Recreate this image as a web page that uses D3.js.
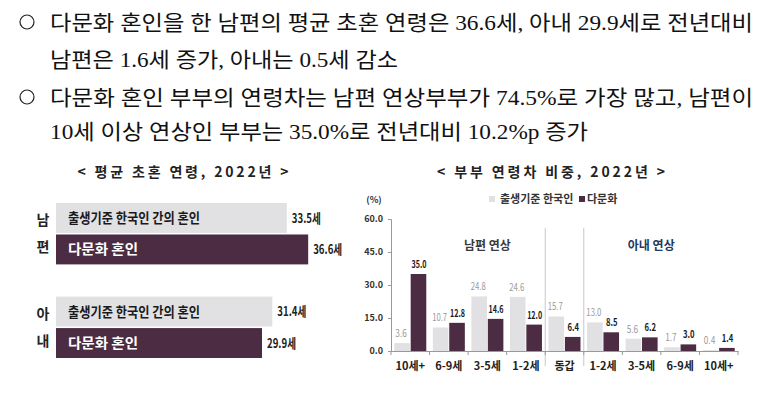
<!DOCTYPE html>
<html>
<head>
<meta charset="utf-8">
<script src="https://cdn.jsdelivr.net/npm/d3@7"></script>
<style>
  body { margin: 0; background: #fff; }
  svg { display: block; }
  text { font-family: "Noto Sans CJK KR", "Noto Sans", sans-serif; }
</style>
</head>
<body>
<div id="my_dataviz"></div>
<script>
'use strict';

// Summary lines at the top
const summaryLines = [
  {bullet: true,  text: "다문화 혼인을 한 남편의 평균 초혼 연령은 36.6세, 아내 29.9세로 전년대비", len: 703},
  {bullet: false, text: "남편은 1.6세 증가, 아내는 0.5세 감소", len: 348},
  {bullet: true,  text: "다문화 혼인 부부의 연령차는 남편 연상부부가 74.5%로 가장 많고, 남편이", len: 703},
  {bullet: false, text: "10세 이상 연상인 부부는 35.0%로 전년대비 10.2%p 증가", len: 538}
];

// Left chart: mean age at first marriage
const ageGroups = ["남편", "아내"];
const ageSeries = ["출생기준 한국인 간의 혼인", "다문화 혼인"];
const ageKorean = [33.5, 31.4];
const ageMulti = [36.6, 29.9];

// Right chart: age gap share
const gapCategories = ["10세+", "6-9세", "3-5세", "1-2세", "동갑", "1-2세", "3-5세", "6-9세", "10세+"];
const gapKorean = [3.6, 10.7, 24.8, 24.6, 15.7, 13.0, 5.6, 1.7, 0.4];
const gapMulti = [35.0, 12.8, 14.6, 12.0, 6.4, 8.5, 6.2, 3.0, 1.4];
const gapTicks = [0, 15, 30, 45, 60];
const legendNames = ["출생기준 한국인", "다문화"];

const lightColor = "#e1e1e3";
const darkColor = "#4b2c43";

let svg = d3.select("#my_dataviz")
  .append("svg")
    .attr("width", 781)
    .attr("height", 394);

function drawSummary(){
  let lineY = [22, 59, 97, 131];
  summaryLines.forEach(function(d, i){
    if(d.bullet){
      svg.append("circle")
        .attr("cx", 27)
        .attr("cy", lineY[i])
        .attr("r", 7)
        .style("fill", "none")
        .style("stroke", "#222")
        .style("stroke-width", 1.2);
    }
    svg.append("text")
      .attr("x", 50)
      .attr("y", lineY[i])
      .attr("dy", "0.36em")
      .attr("textLength", d.len)
      .attr("lengthAdjust", "spacingAndGlyphs")
      .style("font-family", "'Liberation Serif', 'Noto Sans CJK KR', serif")
      .style("font-size", "21px")
      .style("fill", "#111")
      .text(d.text);
  });
}

function drawAgeChart(){
  // Title
  svg.append("text")
    .attr("x", 183)
    .attr("y", 172)
    .attr("dy", "0.35em")
    .attr("text-anchor", "middle")
    .attr("textLength", 211)
    .style("font-size", "14px")
    .style("font-weight", "bold")
    .style("fill", "#222")
    .text("< 평균 초혼 연령, 2022년 >");

  let x = d3.scaleLinear()
    .domain([0, 40])
    .range([56, 56 + 40 * 6.89]);

  let y0 = d3.scaleBand()
    .domain(ageGroups)
    .range([203, 358])
    .paddingInner(0.344);

  let y1 = d3.scaleBand()
    .domain(ageSeries)
    .range([0, y0.bandwidth()])
    .paddingInner(0.05);

  let rows = [];
  ageGroups.forEach(function(g, i){
    rows.push({group: g, series: ageSeries[0], value: ageKorean[i], fill: lightColor, ink: "#1a1a1a", idx: 0});
    rows.push({group: g, series: ageSeries[1], value: ageMulti[i], fill: darkColor, ink: "#ffffff", idx: 1});
  });

  let bar = svg.append("g").selectAll("g")
    .data(rows)
    .enter()
    .append("g")
    .attr("transform", function(d){ return "translate(0," + (y0(d.group) + y1(d.series)) + ")"; });

  bar.append("rect")
    .attr("x", x(0))
    .attr("y", 0)
    .attr("width", function(d){ return x(d.value) - x(0); })
    .attr("height", y1.bandwidth())
    .style("fill", function(d){ return d.fill; });

  // label inside the bar
  bar.append("text")
    .attr("x", x(0) + 12)
    .attr("y", y1.bandwidth() / 2)
    .attr("dy", "0.36em")
    .attr("textLength", function(d){ return d.idx == 0 ? 132 : 70; })
    .attr("lengthAdjust", "spacingAndGlyphs")
    .style("font-size", "14px")
    .style("font-weight", "bold")
    .style("fill", function(d){ return d.ink; })
    .text(function(d){ return d.series; });

  // value at the end
  bar.append("text")
    .attr("x", function(d){ return x(d.value) + 5; })
    .attr("y", y1.bandwidth() / 2)
    .attr("dy", "0.36em")
    .attr("textLength", 29)
    .attr("lengthAdjust", "spacingAndGlyphs")
    .style("font-size", "13px")
    .style("font-weight", "bold")
    .style("fill", "#222")
    .text(function(d){ return d.value.toFixed(1) + "세"; });

  // 남/편 and 아/내 down the side
  bar.append("text")
    .attr("x", 43)
    .attr("y", function(d){ return y1.bandwidth() / 2 + (d.idx == 0 ? 2 : -2); })
    .attr("dy", "0.36em")
    .attr("text-anchor", "middle")
    .style("font-size", "14px")
    .style("font-weight", "bold")
    .style("fill", "#222")
    .text(function(d){ return d.group.charAt(d.idx); });
}

function drawGapChart(){
  svg.append("text")
    .attr("x", 551)
    .attr("y", 172)
    .attr("dy", "0.35em")
    .attr("text-anchor", "middle")
    .attr("textLength", 228)
    .style("font-size", "14px")
    .style("font-weight", "bold")
    .style("fill", "#222")
    .text("< 부부 연령차 비중, 2022년 >");

  let x = d3.scaleBand()
    .domain(d3.range(gapCategories.length))
    .range([391, 738]);

  let x1 = d3.scaleBand()
    .domain(["kor", "multi"])
    .range([0, x.bandwidth()])
    .paddingInner(0.05)
    .paddingOuter(0.2);

  let y = d3.scaleLinear()
    .domain([0, 60])
    .range([351, 219]);

  // separators between 남편 연상 / 동갑 / 아내 연상
  [4, 5].forEach(function(i){
    svg.append("line")
      .attr("x1", x(i)).attr("x2", x(i))
      .attr("y1", y(56)).attr("y2", 366)
      .style("stroke", "#c8c8c8")
      .style("stroke-width", 1);
  });

  // Y axis
  let yAxis = svg.append("g")
    .attr("class", "axis")
    .attr("transform", "translate(391,0)")
    .call(d3.axisLeft(y).tickValues(gapTicks).tickFormat(d3.format(".1f")).tickSize(3).tickPadding(5));
  yAxis.selectAll("path, line").style("stroke", "#999");
  yAxis.selectAll("text")
    .style("font-size", "9px")
    .style("font-weight", "bold")
    .style("fill", "#333");

  // X axis
  let xAxis = svg.append("g")
    .attr("class", "axis")
    .attr("transform", "translate(0,351)")
    .call(d3.axisBottom(x).tickSize(0).tickPadding(11).tickFormat(function(i){ return gapCategories[i]; }));
  xAxis.select("path").style("stroke", "#999");
  xAxis.selectAll("text")
    .style("font-size", "11px")
    .style("font-weight", "bold")
    .style("fill", "#222");

  // small ticks on the category boundaries
  svg.append("g").selectAll("line")
    .data(d3.range(gapCategories.length + 1))
    .enter()
    .append("line")
    .attr("x1", function(i){ return i < gapCategories.length ? x(i) : x.range()[1]; })
    .attr("x2", function(i){ return i < gapCategories.length ? x(i) : x.range()[1]; })
    .attr("y1", 351)
    .attr("y2", 355)
    .style("stroke", "#999");

  let cells = [];
  gapCategories.forEach(function(c, i){
    cells.push({i: i, key: "kor", value: gapKorean[i]});
    cells.push({i: i, key: "multi", value: gapMulti[i]});
  });

  svg.append("g").selectAll("rect")
    .data(cells)
    .enter()
    .append("rect")
    .attr("x", function(d){ return x(d.i) + x1(d.key); })
    .attr("y", function(d){ return y(d.value); })
    .attr("width", x1.bandwidth())
    .attr("height", function(d){ return y(0) - y(d.value); })
    .style("fill", function(d){ return d.key == "kor" ? lightColor : darkColor; });

  // value labels, a bit condensed so neighbours do not touch
  svg.append("g").selectAll("text")
    .data(cells)
    .enter()
    .append("text")
    .attr("x", function(d){ return x(d.i) + x1(d.key) + x1.bandwidth() / 2 + (d.key == "kor" ? -1 : 0.5); })
    .attr("y", function(d){ return y(d.value) - 6; })
    .attr("text-anchor", "middle")
    .attr("textLength", function(d){ return d.value >= 10 ? 15 : 11.5; })
    .attr("lengthAdjust", "spacingAndGlyphs")
    .style("font-size", "10px")
    .style("font-weight", function(d){ return d.key == "kor" ? "normal" : "bold"; })
    .style("fill", function(d){ return d.key == "kor" ? "#9a9a9a" : "#1a1a1a"; })
    .text(function(d){ return d.value.toFixed(1); });

  // group titles
  svg.append("text")
    .attr("x", x(2) + x.bandwidth() / 2)
    .attr("y", y(48))
    .attr("dy", "0.35em")
    .attr("text-anchor", "middle")
    .style("font-size", "12px")
    .style("font-weight", "bold")
    .style("fill", "#3a3a3a")
    .text("남편 연상");

  svg.append("text")
    .attr("x", x(6) + x.bandwidth() * 0.75)
    .attr("y", y(48))
    .attr("dy", "0.35em")
    .attr("text-anchor", "middle")
    .style("font-size", "12px")
    .style("font-weight", "bold")
    .style("fill", "#23395d")
    .text("아내 연상");

  // unit
  svg.append("text")
    .attr("x", 374)
    .attr("y", 200)
    .attr("dy", "0.35em")
    .attr("text-anchor", "middle")
    .style("font-size", "9px")
    .style("font-weight", "bold")
    .style("fill", "#333")
    .text("(%)");

  // legend
  let legendX = [489, 579];
  legendNames.forEach(function(name, i){
    svg.append("rect")
      .attr("x", legendX[i])
      .attr("y", 196)
      .attr("width", 6)
      .attr("height", 6)
      .style("fill", i == 0 ? lightColor : darkColor);
    svg.append("text")
      .attr("x", legendX[i] + 11 - (i == 1 ? 3 : 0))
      .attr("y", 199)
      .attr("dy", "0.35em")
      .style("font-size", "11px")
      .style("font-weight", "bold")
      .style("fill", "#333")
      .text(name);
  });
}

drawSummary();
drawAgeChart();
drawGapChart();
</script>
</body>
</html>
